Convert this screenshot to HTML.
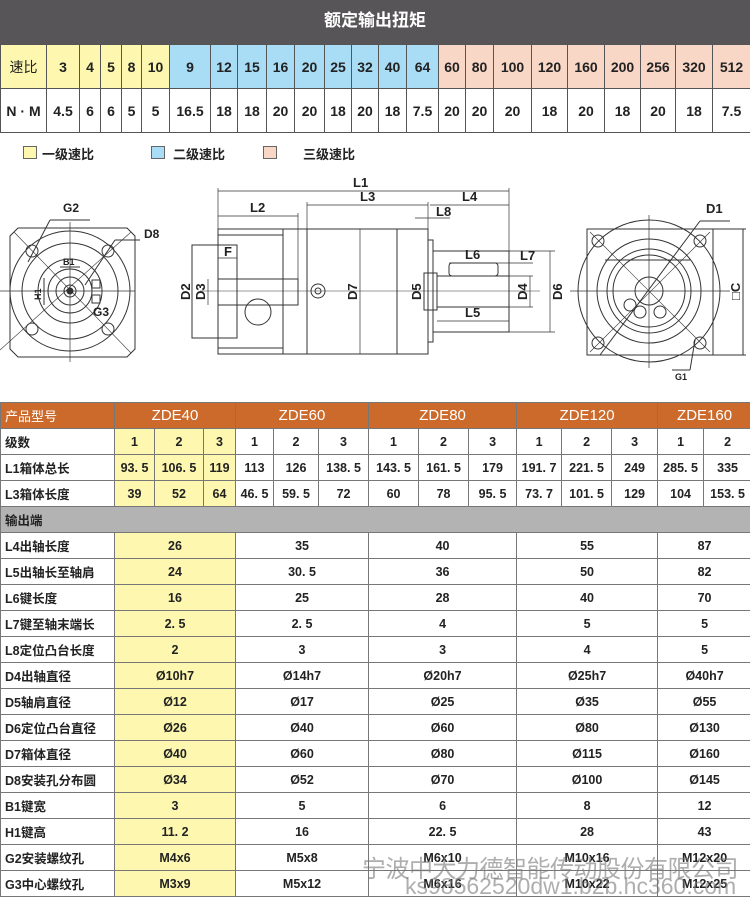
<!DOCTYPE html>
<html><head><meta charset="utf-8">
<style>
*{margin:0;padding:0;box-sizing:border-box}
body{width:750px;height:899px;background:#fff;position:relative;overflow:hidden;font-family:"Liberation Sans","Noto Sans CJK SC",sans-serif;color:#222}
.a{position:absolute}
table{border-collapse:collapse;table-layout:fixed;position:absolute;left:0}
td{text-align:center;font-weight:bold;font-size:13px;border:1px solid #555;padding:0;overflow:hidden;white-space:nowrap}
#t1 td{height:44px;font-size:14px}
#t2 td{height:26px;font-size:12.5px;border-color:#777}
.y{background:#fdf7af}.b{background:#a9dcf5}.p{background:#f9d7c6}
.o{background:#cc6a2c;color:#fff;font-size:15px!important;font-weight:normal!important}
.l{text-align:left;padding-left:4px}
.g{background:#b3b3b3}
</style></head><body>
<div class="a" style="left:0;top:0;width:750px;height:44px;background:#575557;color:#fff;font-weight:bold;font-size:17px;text-align:center;line-height:42px">额定输出扭矩</div>
<table id="t1" style="top:44px;width:750px">
<colgroup><col style="width:46px"><col style="width:33px"><col style="width:21px"><col style="width:21px"><col style="width:20px"><col style="width:28px"><col style="width:41px"><col style="width:27px"><col style="width:29px"><col style="width:28px"><col style="width:30px"><col style="width:27px"><col style="width:27px"><col style="width:28px"><col style="width:32px"><col style="width:27px"><col style="width:28px"><col style="width:38px"><col style="width:36px"><col style="width:37px"><col style="width:36px"><col style="width:35px"><col style="width:37px"><col style="width:38px"></colgroup>
<tr><td class="y" style="font-weight:normal">速比</td><td class="y">3</td><td class="y">4</td><td class="y">5</td><td class="y">8</td><td class="y">10</td><td class="b">9</td><td class="b">12</td><td class="b">15</td><td class="b">16</td><td class="b">20</td><td class="b">25</td><td class="b">32</td><td class="b">40</td><td class="b">64</td><td class="p">60</td><td class="p">80</td><td class="p">100</td><td class="p">120</td><td class="p">160</td><td class="p">200</td><td class="p">256</td><td class="p">320</td><td class="p">512</td></tr>
<tr><td>N · M</td><td>4.5</td><td>6</td><td>6</td><td>5</td><td>5</td><td>16.5</td><td>18</td><td>18</td><td>20</td><td>20</td><td>18</td><td>20</td><td>18</td><td>7.5</td><td>20</td><td>20</td><td>20</td><td>18</td><td>20</td><td>18</td><td>20</td><td>18</td><td>7.5</td></tr>
</table>
<div class="a y" style="left:23px;top:146px;width:14px;height:13px;border:1px solid #666"></div>
<div class="a" style="left:42px;top:144px;font-size:13px;font-weight:bold">一级速比</div>
<div class="a b" style="left:151px;top:146px;width:14px;height:13px;border:1px solid #666"></div>
<div class="a" style="left:173px;top:144px;font-size:13px;font-weight:bold">二级速比</div>
<div class="a p" style="left:263px;top:146px;width:14px;height:13px;border:1px solid #666"></div>
<div class="a" style="left:303px;top:144px;font-size:13px;font-weight:bold">三级速比</div>

<svg class="a" style="left:0;top:170px" width="750" height="225" viewBox="0 170 750 225" fill="none" stroke="#333" stroke-width="1" font-family="Liberation Sans, sans-serif" font-weight="bold">
<!-- left view -->
<path d="M18 228 H127 L135 236 V349 L127 357 H18 L10 349 V236 Z"/>
<circle cx="70" cy="291" r="60"/><circle cx="70" cy="291" r="48"/><circle cx="70" cy="291" r="32"/><circle cx="70" cy="291" r="22"/><circle cx="70" cy="291" r="14"/><circle cx="70" cy="291" r="6"/><circle cx="70" cy="291" r="3" fill="#333"/>
<circle cx="32" cy="251" r="6"/><circle cx="108" cy="251" r="6"/><circle cx="32" cy="329" r="6"/><circle cx="108" cy="329" r="6"/>
<line x1="0" y1="291" x2="135" y2="291" stroke-width=".7"/><line x1="70" y1="222" x2="70" y2="362" stroke-width=".7"/>
<line x1="14" y1="232" x2="131" y2="353" stroke-width=".6"/><line x1="131" y1="232" x2="0" y2="350" stroke-width=".6"/>
<rect x="92" y="280" width="8" height="8"/><rect x="92" y="295" width="8" height="8"/>
<line x1="50" y1="220" x2="90" y2="220"/><line x1="50" y1="220" x2="28" y2="262"/>
<line x1="115" y1="240" x2="85" y2="285"/><line x1="115" y1="240" x2="140" y2="240"/>
<line x1="44" y1="278" x2="44" y2="305"/><line x1="60" y1="267" x2="80" y2="267"/>
<text x="63" y="212" font-size="12" fill="#222" stroke="none">G2</text>
<text x="144" y="238" font-size="12" fill="#222" stroke="none">D8</text>
<text x="63" y="265" font-size="9" fill="#222" stroke="none">B1</text>
<text x="93" y="316" font-size="12" fill="#222" stroke="none">G3</text>
<text x="41" y="300" font-size="9" fill="#222" stroke="none" transform="rotate(-90 41 300)">H1</text>
<!-- middle view -->
<rect x="218" y="229" width="210" height="125"/>
<line x1="218" y1="235" x2="283" y2="235"/><line x1="218" y1="348" x2="283" y2="348"/>
<line x1="283" y1="229" x2="283" y2="354"/><line x1="307" y1="229" x2="307" y2="354"/><line x1="397" y1="229" x2="397" y2="354"/>
<rect x="428" y="240" width="5" height="102"/>
<rect x="433" y="251" width="76" height="81"/>
<rect x="218" y="279" width="80" height="26"/>
<rect x="192" y="245" width="45" height="93"/>
<circle cx="258" cy="312" r="13"/><circle cx="318" cy="291" r="7"/><circle cx="318" cy="291" r="3"/>
<rect x="424" y="273" width="13" height="37"/>
<rect x="437" y="276" width="72" height="31"/>
<rect x="449" y="263" width="49" height="13" rx="3"/>
<line x1="200" y1="291" x2="540" y2="291" stroke-width=".6"/>
<g stroke-width=".7">
<line x1="218" y1="188" x2="218" y2="229"/><line x1="509" y1="188" x2="509" y2="251"/>
<line x1="218" y1="191" x2="509" y2="191"/><line x1="307" y1="205" x2="428" y2="205"/><line x1="430" y1="205" x2="509" y2="205"/>
<line x1="307" y1="202" x2="307" y2="229"/><line x1="428" y1="202" x2="428" y2="229"/>
<line x1="218" y1="216" x2="298" y2="216"/><line x1="298" y1="213" x2="298" y2="279"/>
<line x1="415" y1="218" x2="450" y2="218"/>
<line x1="437" y1="321" x2="509" y2="321"/><line x1="449" y1="263" x2="533" y2="263"/>
<line x1="550" y1="251" x2="550" y2="332"/><line x1="509" y1="251" x2="555" y2="251"/><line x1="509" y1="332" x2="555" y2="332"/>
<line x1="530" y1="276" x2="530" y2="307"/><line x1="509" y1="276" x2="533" y2="276"/><line x1="509" y1="307" x2="533" y2="307"/>
<line x1="192" y1="245" x2="192" y2="338"/><line x1="208" y1="279" x2="208" y2="305"/>
<line x1="360" y1="229" x2="360" y2="354"/><line x1="218" y1="258" x2="237" y2="258"/>
</g>
<g fill="#222" stroke="none" font-size="13">
<text x="353" y="187">L1</text><text x="360" y="201">L3</text><text x="462" y="201">L4</text><text x="250" y="212">L2</text><text x="436" y="216">L8</text>
<text x="224" y="256">F</text><text x="465" y="259">L6</text><text x="520" y="260">L7</text><text x="465" y="317">L5</text>
<text x="190" y="300" transform="rotate(-90 190 300)">D2</text><text x="205" y="300" transform="rotate(-90 205 300)">D3</text>
<text x="357" y="300" transform="rotate(-90 357 300)">D7</text><text x="421" y="300" transform="rotate(-90 421 300)">D5</text>
<text x="527" y="300" transform="rotate(-90 527 300)">D4</text><text x="562" y="300" transform="rotate(-90 562 300)">D6</text>
</g>
<!-- right view -->
<rect x="587" y="229" width="126" height="126"/>
<circle cx="649" cy="291" r="71"/><circle cx="649" cy="291" r="52"/><circle cx="649" cy="291" r="42"/><circle cx="649" cy="291" r="36"/><circle cx="649" cy="291" r="14"/>
<circle cx="598" cy="241" r="6"/><circle cx="700" cy="241" r="6"/><circle cx="598" cy="343" r="6"/><circle cx="700" cy="343" r="6"/>
<circle cx="630" cy="305" r="6"/><circle cx="640" cy="312" r="6"/><circle cx="660" cy="312" r="6"/>
<line x1="570" y1="291" x2="730" y2="291" stroke-width=".7"/><line x1="649" y1="215" x2="649" y2="368" stroke-width=".7"/>
<line x1="590" y1="232" x2="710" y2="352" stroke-width=".6"/><line x1="710" y1="232" x2="590" y2="352" stroke-width=".6"/>
<line x1="605" y1="260" x2="690" y2="260"/>
<line x1="700" y1="221" x2="600" y2="355"/><line x1="700" y1="221" x2="730" y2="221"/>
<line x1="743" y1="229" x2="743" y2="355"/><line x1="713" y1="229" x2="746" y2="229"/><line x1="713" y1="355" x2="746" y2="355"/>
<line x1="690" y1="370" x2="695" y2="340"/><line x1="672" y1="370" x2="690" y2="370"/>
<g fill="#222" stroke="none"><text x="706" y="213" font-size="13">D1</text><text x="740" y="300" font-size="13" transform="rotate(-90 740 300)">□C</text><text x="675" y="380" font-size="9">G1</text></g>
</svg>

<table id="t2" style="top:402px;width:750px">
<colgroup><col style="width:114px"><col style="width:40px"><col style="width:49px"><col style="width:32px"><col style="width:38px"><col style="width:45px"><col style="width:50px"><col style="width:50px"><col style="width:50px"><col style="width:48px"><col style="width:45px"><col style="width:50px"><col style="width:46px"><col style="width:46px"><col style="width:48px"><col style="width:49px"></colgroup>
<tr><td class="o l" style="font-size:13px!important">产品型号</td><td class="o" colspan="3">ZDE40</td><td class="o" colspan="3">ZDE60</td><td class="o" colspan="3">ZDE80</td><td class="o" colspan="3">ZDE120</td><td class="o" colspan="2">ZDE160</td></tr>
<tr><td class="l">级数</td><td class="y">1</td><td class="y">2</td><td class="y">3</td><td>1</td><td>2</td><td>3</td><td>1</td><td>2</td><td>3</td><td>1</td><td>2</td><td>3</td><td>1</td><td>2</td></tr>
<tr><td class="l">L1箱体总长</td><td class="y">93. 5</td><td class="y">106. 5</td><td class="y">119</td><td>113</td><td>126</td><td>138. 5</td><td>143. 5</td><td>161. 5</td><td>179</td><td>191. 7</td><td>221. 5</td><td>249</td><td>285. 5</td><td>335</td></tr>
<tr><td class="l">L3箱体长度</td><td class="y">39</td><td class="y">52</td><td class="y">64</td><td>46. 5</td><td>59. 5</td><td>72</td><td>60</td><td>78</td><td>95. 5</td><td>73. 7</td><td>101. 5</td><td>129</td><td>104</td><td>153. 5</td></tr>
<tr><td class="l g" colspan="15">输出端</td></tr>
<tr><td class="l">L4出轴长度</td><td class="y" colspan="3">26</td><td colspan="3">35</td><td colspan="3">40</td><td colspan="3">55</td><td colspan="2">87</td></tr>
<tr><td class="l">L5出轴长至轴肩</td><td class="y" colspan="3">24</td><td colspan="3">30. 5</td><td colspan="3">36</td><td colspan="3">50</td><td colspan="2">82</td></tr>
<tr><td class="l">L6键长度</td><td class="y" colspan="3">16</td><td colspan="3">25</td><td colspan="3">28</td><td colspan="3">40</td><td colspan="2">70</td></tr>
<tr><td class="l">L7键至轴末端长</td><td class="y" colspan="3">2. 5</td><td colspan="3">2. 5</td><td colspan="3">4</td><td colspan="3">5</td><td colspan="2">5</td></tr>
<tr><td class="l">L8定位凸台长度</td><td class="y" colspan="3">2</td><td colspan="3">3</td><td colspan="3">3</td><td colspan="3">4</td><td colspan="2">5</td></tr>
<tr><td class="l">D4出轴直径</td><td class="y" colspan="3">Ø10h7</td><td colspan="3">Ø14h7</td><td colspan="3">Ø20h7</td><td colspan="3">Ø25h7</td><td colspan="2">Ø40h7</td></tr>
<tr><td class="l">D5轴肩直径</td><td class="y" colspan="3">Ø12</td><td colspan="3">Ø17</td><td colspan="3">Ø25</td><td colspan="3">Ø35</td><td colspan="2">Ø55</td></tr>
<tr><td class="l">D6定位凸台直径</td><td class="y" colspan="3">Ø26</td><td colspan="3">Ø40</td><td colspan="3">Ø60</td><td colspan="3">Ø80</td><td colspan="2">Ø130</td></tr>
<tr><td class="l">D7箱体直径</td><td class="y" colspan="3">Ø40</td><td colspan="3">Ø60</td><td colspan="3">Ø80</td><td colspan="3">Ø115</td><td colspan="2">Ø160</td></tr>
<tr><td class="l">D8安装孔分布圆</td><td class="y" colspan="3">Ø34</td><td colspan="3">Ø52</td><td colspan="3">Ø70</td><td colspan="3">Ø100</td><td colspan="2">Ø145</td></tr>
<tr><td class="l">B1键宽</td><td class="y" colspan="3">3</td><td colspan="3">5</td><td colspan="3">6</td><td colspan="3">8</td><td colspan="2">12</td></tr>
<tr><td class="l">H1键高</td><td class="y" colspan="3">11. 2</td><td colspan="3">16</td><td colspan="3">22. 5</td><td colspan="3">28</td><td colspan="2">43</td></tr>
<tr><td class="l">G2安装螺纹孔</td><td class="y" colspan="3">M4x6</td><td colspan="3">M5x8</td><td colspan="3">M6x10</td><td colspan="3">M10x16</td><td colspan="2">M12x20</td></tr>
<tr><td class="l">G3中心螺纹孔</td><td class="y" colspan="3">M3x9</td><td colspan="3">M5x12</td><td colspan="3">M6x16</td><td colspan="3">M10x22</td><td colspan="2">M12x25</td></tr>
</table>
<div class="a" style="left:362px;top:849px;font-size:24px;color:rgba(120,120,120,.6);white-space:nowrap;letter-spacing:-0.5px">宁波中大力德智能传动股份有限公司</div>
<div class="a" style="left:405px;top:873px;font-size:23px;color:rgba(120,120,120,.6);white-space:nowrap">ks98562520dw1.b2b.hc360.com</div>
</body></html>
